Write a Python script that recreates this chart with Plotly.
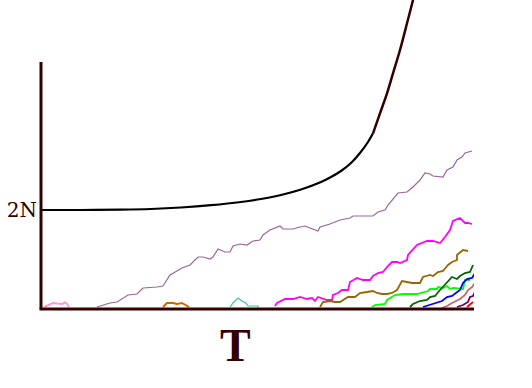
import plotly.graph_objects as go

AXIS = "#330000"

# Expected-size curve (x = generation T, y = allele copies; 2N = 99)
curve_t = [0, 40, 80, 110, 140, 170, 200, 220, 240, 260, 280, 290, 300, 310, 319, 327, 332]
curve_y = [99, 99, 99.3, 100, 101.5, 103.8, 107, 110, 114, 119.5, 127, 132, 138, 146, 156, 167, 175.7]
curve2_t = [332, 339, 346, 352, 359, 366, 372, 375]
curve2_y = [175.7, 195.7, 215.7, 235.7, 259, 285.7, 309, 322]

# Individual mutant lineages
pink_t = [3, 7, 12, 16, 21, 24, 26, 28]
pink_y = [2, 4, 6, 5.5, 5, 6.5, 5, 2]

purple_t = [56, 69, 76, 87, 96, 102, 116, 122, 129, 134, 141, 149, 157, 162, 169, 172, 177, 184, 189, 192,
            199, 206, 212, 219, 222, 229, 236, 239, 242, 252, 259, 264, 269, 277, 279, 289, 299, 309, 312, 332,
            337, 344, 347, 351, 357, 366, 372, 379, 384, 389, 392, 402, 406, 412, 416, 421, 424, 431]
purple_y = [2, 6, 7, 14, 15, 21, 22, 23, 34, 37, 41, 44, 52, 52, 50, 52, 60, 57, 57, 63,
            65, 64, 68, 69, 74, 79, 82, 83, 80, 80, 82, 83, 81, 78, 82, 85, 89, 91, 93, 93,
            97, 99, 104, 109, 116, 117, 122, 129, 136, 135, 133, 132, 139, 142, 149, 152, 156, 158]

orange_t = [122, 126, 132, 136, 141, 144, 148]
orange_y = [2, 6, 6, 5, 6, 4, 2]

teal_t = [189, 192, 197, 201, 205, 207, 212, 217, 217]
teal_y = [2, 6, 11, 8, 6, 3, 3, 3, 1]

magenta_t = [234, 236, 244, 252, 259, 266, 271, 274, 277, 282, 286, 291, 292, 297, 301, 307, 309, 316, 322, 329,
             332, 337, 342, 346, 351, 356, 359, 366, 367, 376, 386, 392, 399, 404, 409, 412, 419, 424, 427, 431]
magenta_y = [3, 6, 10, 10, 12, 10, 11, 8, 12, 10, 9, 9, 14, 16, 19, 19, 27, 31, 29, 29,
             33, 36, 37, 42, 47, 47, 46, 49, 54, 64, 68, 68, 66, 72, 79, 88, 91, 86, 86, 85]

brown_t = [279, 282, 289, 294, 299, 307, 314, 319, 326, 332, 336, 341, 346, 351, 356, 361, 366, 371, 379, 382,
           389, 392, 397, 402, 407, 411, 416, 416, 422, 427]
brown_y = [2, 7, 8, 7, 7, 12, 12, 16, 17, 18, 16, 15, 15, 16, 19, 28, 27, 26, 26, 32,
           34, 33, 37, 38, 44, 47, 49, 54, 59, 58]

green_t = [331, 334, 344, 346, 354, 362, 376, 387, 389, 396, 397, 402, 406, 409, 412, 422, 424, 429]
green_y = [2, 4, 5, 9, 14, 15, 15, 18, 20, 20, 22, 21, 23, 20, 21, 20, 29, 29]

dkgreen_t = [369, 372, 379, 386, 389, 394, 399, 402, 407, 411, 416, 419, 424, 429, 432]
dkgreen_y = [2, 5, 8, 9, 12, 13, 19, 22, 27, 32, 30, 33, 36, 37, 44]

blue_t = [382, 392, 401, 406, 411, 419, 422, 426, 431, 434]
blue_y = [2, 5, 8, 12, 13, 19, 26, 30, 31, 36]

salmon_t = [401, 406, 411, 419, 424, 427, 431, 434]
salmon_y = [1, 3, 6, 10, 14, 19, 22, 26]

dkpurple_t = [416, 422, 427, 429, 432, 434]
dkpurple_y = [2, 4, 7, 12, 13, 17]

red_t = [426, 429, 432]
red_y = [2, 5, 7]

y_tick_vals = [99]
y_tick_text = ["2N"]
x_title = "T"

series = [
    (pink_t, pink_y, "#ff99cc", 2),
    (purple_t, purple_y, "#996699", 1.2),
    (orange_t, orange_y, "#cc6600", 2),
    (teal_t, teal_y, "#33cc99", 1.2),
    (magenta_t, magenta_y, "#ff00ff", 1.8),
    (brown_t, brown_y, "#996600", 1.8),
    (green_t, green_y, "#00ff00", 1.8),
    (dkgreen_t, dkgreen_y, "#006600", 1.8),
    (blue_t, blue_y, "#0000ff", 1.8),
    (salmon_t, salmon_y, "#cc6666", 1.8),
    (dkpurple_t, dkpurple_y, "#660066", 1.8),
    (red_t, red_y, "#ff0000", 1.8),
]

fig = go.Figure()
for t, y, c, w in series:
    fig.add_trace(go.Scatter(x=t, y=y, mode="lines", line=dict(color=c, width=w), hoverinfo="skip"))

fig.add_trace(go.Scatter(x=curve_t, y=curve_y, mode="lines", line=dict(color="#000000", width=2.2, shape="spline"), hoverinfo="skip"))
fig.add_trace(go.Scatter(x=curve2_t, y=curve2_y, mode="lines", line=dict(color=AXIS, width=2.5, shape="spline"), hoverinfo="skip"))

fig.update_layout(
    width=532, height=388,
    margin=dict(l=38, r=58, t=0, b=76),
    paper_bgcolor="white", plot_bgcolor="white",
    showlegend=False,
    xaxis=dict(range=[-3, 433], showgrid=False, zeroline=False, showline=False,
               showticklabels=False, ticks=""),
    yaxis=dict(range=[-3, 309], showgrid=False, zeroline=False, showline=False,
               tickvals=y_tick_vals, ticktext=y_tick_text, ticks="",
               tickfont=dict(family="DejaVu Serif", size=20, color=AXIS)),
    shapes=[
        dict(type="line", xref="x", yref="y", x0=0, x1=0, y0=0, y1=247,
             line=dict(color=AXIS, width=3)),
        dict(type="line", xref="x", yref="y", x0=-1.5, x1=433, y0=0, y1=0,
             line=dict(color=AXIS, width=3)),
    ],
    annotations=[
        dict(text="<b>" + x_title + "</b>", x=0.454, y=-0.107, xref="paper", yref="paper",
             showarrow=False, xanchor="center", yanchor="middle",
             font=dict(family="Liberation Serif", size=46, color=AXIS)),
    ],
)

fig.write_html("out.html")
